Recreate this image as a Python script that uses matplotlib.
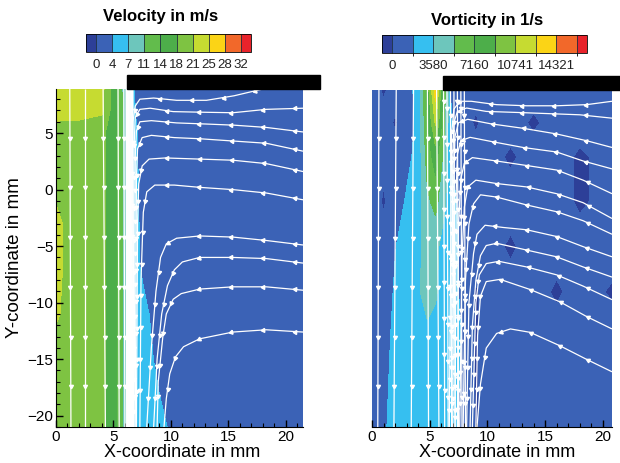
import numpy as np
from matplotlib import pyplot as plt
from matplotlib.colors import ListedColormap, BoundaryNorm
from matplotlib.patches import Rectangle

plt.rcParams['font.family'] = ['Liberation Sans', 'DejaVu Sans']

# band colours of both scales, low -> high (first = under, last = over)
list_color = ['#2d3f98', '#3b62b6', '#36bff0', '#6dc6bc', '#62bc4c', '#4dae4a',
              '#7ec342', '#c6db31', '#fbd416', '#f2682a', '#e8232b']

# velocity scale in m/s
vel_levels = [0, 3.55, 7.1, 10.65, 14.2, 17.75, 21.3, 24.85, 28.4, 32]
vel_ticklabels = ['0', '4', '7', '11', '14', '18', '21', '25', '28', '32']
# vorticity scale in 1/s
vort_levels = [0, 1790, 3580, 5370, 7160, 8950, 10741, 12531, 14321, 16111]
vort_ticks = [0, 3580, 7160, 10741, 14321]
vort_ticklabels = ['0', '3580', '7160', '10741', '14321']

# velocity field (rows = y, cols = x), m/s
vel_x = [0, 1, 2, 4, 5, 5.7, 6.3, 7, 8, 9, 10, 11, 21.5]
vel_y = [-21, -15, -11, -7, -3, 1, 5, 7, 9]
vel_v = [
    [19, 19, 19, 18.5, 16, 11, 7.5, 5.5, 5.0, 4.5, 3.1, 1, 1],
    [19, 19, 19, 18.5, 16, 11, 7.5, 5.5, 4.5, 2.5, 1, 1, 1],
    [22, 20, 19, 18.5, 16, 11, 7.5, 5.0, 3.8, 1.5, 1, 1, 1],
    [23, 20, 19, 18.5, 16, 11, 7.5, 4.5, 1.5, 1, 1, 1, 1],
    [23, 20, 19, 18.5, 16, 11, 7.5, 4.3, 1, 1, 1, 1, 1],
    [19, 19, 19, 18.5, 16, 11, 7.5, 4.0, 1, 1, 1, 1, 1],
    [19.5, 19, 19, 18.5, 16, 11, 7.5, 3.8, 1, 1, 1, 1, 1],
    [23, 23, 23, 22, 16, 11, 7.5, 3.0, 1, 1, 1, 1, 1],
    [23.5, 23.5, 23.5, 22.5, 16, 11, 6, 2.5, 1, 1, 1, 1, 1],
]

# vorticity field (rows = y, cols = x), 1/s
vort_x = [0, 1, 2, 3, 4, 4.8, 5.5, 6.2, 7, 8, 9, 10, 12, 14, 16, 18, 21]
vort_y = [-21, -17, -13, -9, -5, -1, 3, 6, 9]
vort_v = [
    [800, 1500, 2500, 2700, 2800, 2800, 2700, 2600, 2300, 1200, -200, 800, 800, 800, 800, 800, 800],
    [800, 1300, 2400, 2700, 2900, 3000, 2900, 2700, 2400, 1300, -200, 800, 800, 800, 800, 800, 800],
    [300, 1000, 2300, 2800, 3000, 3200, 3000, 2800, 2500, 1500, -200, 800, 800, 800, 800, 800, 800],
    [800, 800, 2000, 2700, 3400, 4200, 3800, 2800, 2400, 1200, -200, 800, 800, 800, -300, 800, -300],
    [500, 800, 1700, 2600, 3000, 4500, 4000, 3000, 2500, 1000, 800, 800, -300, 800, 800, 800, 800],
    [800, -200, 900, 2000, 2700, 5000, 6000, 4000, 2200, 1000, 800, 800, 800, 800, 800, -300, 800],
    [800, 500, 800, 1300, 2400, 6200, 8000, 5000, 1500, 800, 800, 800, -300, 800, 800, -300, 800],
    [600, 800, -200, 800, 2200, 7000, 11000, 6000, 1000, 800, -300, 800, 800, -300, 800, 800, 800],
    [800, -300, 800, 1000, 2500, 8000, 13500, 6500, 500, 800, 800, 800, 800, 800, 800, 800, 800],
]

# streamlines, left panel (mm); curved ones run right -> left then down
vel_vertical = [(1.2, 1.3), (2.5, 2.5), (4.1, 4.3), (5.4, 5.5), (5.9, 6.0)]
vel_dense = [6.12, 6.2, 6.28, 6.36, 6.44, 6.52, 6.6, 6.68]
vel_curves = [
    [(18, 8.9), (15.5, 8.3), (13.1, 7.9), (10.5, 7.9), (8.5, 8.1), (7.3, 8.0), (6.9, 7.4), (6.7, 6.0), (6.6, 0), (6.5, -21)],
    [(21.5, 7.2), (18.3, 7.1), (15.4, 6.8), (12.5, 6.85), (10.2, 6.9), (8.2, 7.2), (7.3, 7.1), (6.9, 6.4), (6.8, 4), (6.7, -21)],
    [(21.5, 5.1), (18.3, 5.5), (15.5, 5.7), (13.1, 5.8), (10.5, 5.9), (8.3, 6.1), (7.3, 6.0), (7.0, 5.2), (6.9, 3), (6.8, -21)],
    [(21.5, 3.4), (18.3, 4.1), (15.4, 4.3), (12.5, 4.5), (10.3, 4.6), (8.3, 4.8), (7.5, 4.6), (7.1, 3.6), (7.0, 1), (6.9, -21)],
    [(21.5, 1.6), (18.3, 2.3), (15.4, 2.6), (12.5, 2.7), (9.5, 2.8), (8.1, 2.7), (7.5, 2.1), (7.2, 0.5), (7.1, -3), (7.0, -21)],
    [(21.5, -0.9), (18.3, -0.3), (15.4, 0), (12.5, 0.2), (10.3, 0.4), (8.6, 0.4), (7.9, -0.2), (7.6, -2), (7.4, -8), (7.3, -21)],
    [(21.5, -4.9), (18.3, -4.5), (15.4, -4.2), (12.5, -4.1), (10.5, -4.3), (9.6, -4.8), (9.1, -6.0), (8.7, -9), (8.3, -14), (7.9, -21)],
    [(21.5, -6.5), (18.3, -6.1), (15.4, -6.0), (12.5, -6.0), (11.0, -6.4), (10.3, -7.1), (9.7, -8.5), (9.2, -11), (8.8, -15), (8.5, -21)],
    [(21.5, -8.9), (18.3, -8.6), (15.4, -8.6), (12.5, -8.8), (10.9, -9.2), (10.2, -9.7), (9.6, -11), (9.3, -13), (8.9, -17), (8.8, -21)],
    [(21.5, -12.6), (18.3, -12.4), (15.4, -12.6), (12.5, -13.2), (11.1, -13.9), (10.4, -14.8), (9.9, -16.3), (9.6, -18.5), (9.4, -21)],
]

# streamlines, right panel (mm)
vort_vertical = [(0.6, 0.5), (2.1, 1.9), (3.6, 3.4), (4.8, 4.9), (5.6, 5.8)]
vort_dense = [6.2, 6.5, 6.8, 7.1, 7.4, 7.7, 8.0]
vort_curves = [
    [(20.8, 7.9), (18.6, 7.6), (16.0, 7.5), (13.4, 7.5), (10.8, 7.6), (8.6, 7.9), (7.6, 7.9), (7.1, 7.2), (6.9, 5), (6.7, -21)],
    [(20.8, 6.4), (18.0, 6.7), (15.4, 6.8), (12.8, 6.9), (9.9, 7.0), (8.2, 7.3), (7.4, 7.0), (7.1, 6), (7.0, 3), (6.9, -21)],
    [(20.8, 3.8), (18.6, 4.4), (16.0, 5.0), (13.1, 5.5), (10.3, 5.9), (8.3, 6.3), (7.5, 6.0), (7.2, 4.8), (7.1, 2), (7.0, -21)],
    [(20.8, 1.9), (18.3, 2.6), (16.0, 3.4), (13.1, 3.8), (10.5, 4.3), (8.5, 4.7), (7.7, 4.4), (7.4, 3.2), (7.3, 0), (7.2, -21)],
    [(20.8, -0.3), (18.3, 0.9), (16.0, 1.8), (13.4, 2.2), (10.8, 2.6), (8.7, 2.9), (8.0, 2.4), (7.7, 1.0), (7.5, -3), (7.4, -21)],
    [(20.8, -2.5), (18.3, -1.1), (16.0, -0.3), (13.4, 0.3), (10.8, 0.6), (9.0, 0.9), (8.3, 0.3), (8.0, -1.5), (7.8, -6), (7.6, -21)],
    [(20.8, -3.9), (18.3, -2.7), (16.0, -1.9), (13.4, -1.3), (10.8, -0.6), (9.4, -0.4), (8.8, -1.2), (8.4, -3), (8.1, -8), (7.9, -21)],
    [(20.8, -5.9), (18.3, -5.0), (16.0, -4.1), (13.4, -3.5), (11.4, -3.3), (9.8, -3.1), (9.1, -3.9), (8.8, -5.6), (8.4, -10), (8.2, -21)],
    [(20.8, -7.7), (18.3, -6.8), (16.0, -5.9), (13.4, -5.3), (10.8, -4.7), (9.9, -4.9), (9.4, -5.8), (9.0, -8), (8.7, -12), (8.5, -21)],
    [(20.8, -9.7), (18.3, -8.5), (16.0, -7.5), (13.4, -6.8), (11.0, -6.3), (9.9, -6.5), (9.3, -7.5), (9.0, -10), (8.7, -21)],
    [(20.8, -12.3), (18.6, -11.2), (16.3, -9.9), (13.7, -8.8), (11.1, -7.9), (9.9, -8.1), (9.4, -9.4), (9.15, -12.9), (9.0, -21)],
    [(20.8, -16.1), (18.6, -15.0), (16.3, -13.8), (13.7, -12.6), (12.0, -12.3), (10.8, -12.7), (9.9, -14), (9.4, -17.2), (9.1, -21)],
]

y_lim = (-21, 8.9)


def draw_stream(ax, pts, offset, spacing, lw=0.9):
    """Draw one streamline with arrowheads every `spacing` mm of arc length."""
    arr = np.array(pts, dtype=float)
    ax.plot(arr[:, 0], arr[:, 1], color='white', lw=lw, zorder=3, solid_capstyle='butt')
    if spacing is None:
        return
    d = np.diff(arr, axis=0)
    seg = np.hypot(d[:, 0], d[:, 1])
    s = np.concatenate([[0], np.cumsum(seg)])
    for sm in np.arange(offset, s[-1] - 0.8, spacing):
        i = min(np.searchsorted(s, sm, side='right') - 1, len(seg) - 1)
        t = (sm - s[i]) / seg[i]
        x, y = arr[i] + t * d[i]
        ang = np.degrees(np.arctan2(d[i, 1], d[i, 0]))
        ax.plot(x, y, marker=(3, 0, ang - 90), ms=3.3, color='white', mec='white', zorder=4)


def setup_axes(ax, x_max, ylabels=True):
    ax.set_xlim(0, x_max)
    ax.set_ylim(*y_lim)
    ax.set_xticks([0, 5, 10, 15, 20])
    ax.set_xticks(np.arange(0, x_max, 1), minor=True)
    ax.set_yticks([-20, -15, -10, -5, 0, 5])
    ax.set_yticks(np.arange(-21, 9, 1), minor=True)
    ax.tick_params(which='both', direction='in', color='black', labelsize=11)
    ax.tick_params(axis='x', pad=2)
    ax.tick_params(axis='y', pad=2)
    ax.tick_params(which='major', length=5, width=1.0)
    ax.tick_params(which='minor', length=3, width=0.8)
    for k in ['top', 'right']:
        ax.spines[k].set_visible(False)
    if not ylabels:
        ax.spines['left'].set_visible(False)
        ax.tick_params(axis='y', which='both', left=False, labelleft=False)
    ax.set_xlabel('X-coordinate in mm', fontsize=13)


def field(ax, xs, ys, vals, levels):
    cmap = ListedColormap(list_color[1:-1])
    cmap.set_under(list_color[0])
    cmap.set_over(list_color[-1])
    norm = BoundaryNorm(levels, cmap.N)
    X, Y = np.meshgrid(xs, ys)
    return ax.contourf(X, Y, np.array(vals, dtype=float), levels=levels, cmap=cmap,
                       norm=norm, extend='both', zorder=1)


def colorbar(fig, cs, rect, ticks, labels, frac, title, title_xy):
    cax = fig.add_axes(rect)
    cb = fig.colorbar(cs, cax=cax, orientation='horizontal', extendrect=True,
                      extendfrac=frac, drawedges=True)
    cb.set_ticks(ticks)
    cb.set_ticklabels(labels)
    cax.tick_params(length=0, labelsize=9.5, pad=5, labelcolor='#222222')
    cb.outline.set_linewidth(0.6)
    cb.dividers.set_linewidth(0.6)
    cb.dividers.set_color('#203040')
    fig.text(title_xy[0], title_xy[1], title, fontsize=12, fontweight='bold',
             ha='center', va='center')


fig = plt.figure(figsize=(6.2, 4.63), dpi=100)

# left panel: velocity
ax1 = fig.add_axes([56 / 620, 36 / 463, 247 / 620, 338 / 463])
cs1 = field(ax1, vel_x, vel_y, vel_v, vel_levels)
for xt, xb in vel_vertical:
    draw_stream(ax1, [(xt, y_lim[1]), (xb, y_lim[0])], 4.3, 4.4)
for xd in vel_dense:
    draw_stream(ax1, [(xd, y_lim[1]), (xd + 0.05, y_lim[0])], 0, None, lw=1.2)
for pts in vel_curves:
    draw_stream(ax1, pts, 0.7, 2.8)
setup_axes(ax1, 21.5)
ax1.xaxis.set_label_coords(0.51, -0.051)
ax1.set_ylabel('Y-coordinate in mm', fontsize=13.5, labelpad=3)
ax1.add_patch(Rectangle((6.2, y_lim[1]), 16.8, 1.25, color='black', clip_on=False, zorder=5))

# right panel: vorticity
ax2 = fig.add_axes([372 / 620, 36 / 463, 240 / 620, 337 / 463])
cs2 = field(ax2, vort_x, vort_y, vort_v, vort_levels)
for xt, xb in vort_vertical:
    draw_stream(ax2, [(xt, y_lim[1]), (xb, y_lim[0])], 4.3, 4.4)
for k, xd in enumerate(vort_dense):
    draw_stream(ax2, [(xd, y_lim[1]), (xd + 0.1, y_lim[0])], 1.0 + 0.6 * (k % 4), 3.2)
for pts in vort_curves:
    draw_stream(ax2, pts, 2.3, 2.75)
setup_axes(ax2, 20.8, ylabels=False)
ax2.xaxis.set_label_coords(0.52, -0.051)
ax2.add_patch(Rectangle((6.15, y_lim[1]), 20, 1.25, color='black', clip_on=False, zorder=5))

colorbar(fig, cs1, [86 / 620, 1 - 52 / 463, 165 / 620, 18 / 463], vel_levels, vel_ticklabels,
         0.068, 'Velocity in m/s', (161 / 620, 1 - 17 / 463))
colorbar(fig, cs2, [382 / 620, 1 - 53 / 463, 205 / 620, 18 / 463], vort_ticks, vort_ticklabels,
         0.054, 'Vorticity in 1/s', (487 / 620, 1 - 20 / 463))

fig.savefig('out.png', dpi=100)
